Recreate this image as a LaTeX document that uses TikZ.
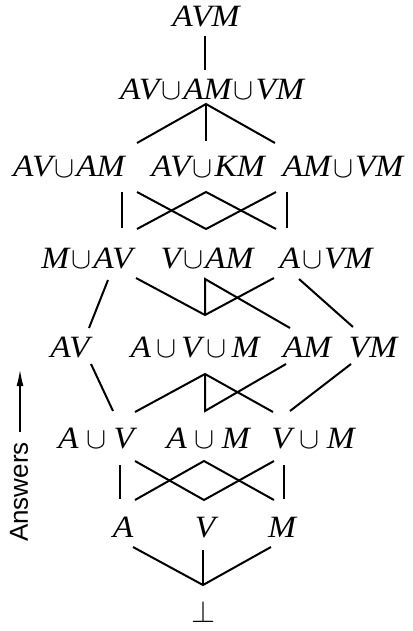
\documentclass[tikz,border=0pt]{standalone}
\usepackage{fontspec}
\usepackage{graphicx}
\setmainfont{Liberation Serif}[FakeStretch=1.08]
\setsansfont{Liberation Sans}
\usetikzlibrary{arrows.meta}
\newcommand\cupsym{\resizebox{20pt}{!}{$\cup$}}
\newcommand\cupx[1]{\hspace{#1}\cupsym\hspace{#1}}
\begin{document}
\begin{tikzpicture}[x=1pt,y=-1pt,
  lbl/.style={anchor=base,inner sep=0pt,font=\fontsize{31}{31}\selectfont\itshape},
  edge/.style={line width=2pt},
  ans/.style={font=\fontsize{26}{26}\sffamily,rotate=90,inner sep=0pt}]
\useasboundingbox (0,0) rectangle (412,631);
% row 1
\node[lbl] (avm) at (206,27) {AVM};
% row 2
\node[lbl] (r2) at (212,100) {AV\cupx{2pt}AM\cupx{2pt}VM};
% row 3
\node[lbl] (r3a) at (69,177) {AV\cupx{2pt}AM};
\node[lbl] (r3b) at (208,177) {AV\cupx{2pt}KM};
\node[lbl] (r3c) at (343,177) {AM\cupx{2pt}VM};
% row 4
\node[lbl] (r4a) at (87,268) {M\cupx{2pt}AV};
\node[lbl] (r4b) at (207,268) {V\cupx{2pt}AM};
\node[lbl] (r4c) at (326,268) {A\cupx{2pt}VM};
% row 5
\node[lbl] (r5a) at (70,357) {AV};
\node[lbl] (r5b) at (195,357) {A\cupx{5pt}V\cupx{5pt}M};
\node[lbl] (r5c) at (307,357) {AM};
\node[lbl] (r5d) at (373,357) {VM};
% row 6
\node[lbl] (r6a) at (96,448) {A\cupx{7.5pt}V};
\node[lbl] (r6b) at (208,448) {A\cupx{7.5pt}M};
\node[lbl] (r6c) at (313,448) {V\cupx{7.5pt}M};
% row 7
\node[lbl] (r7a) at (123,537) {A};
\node[lbl] (r7b) at (205,537) {V};
\node[lbl] (r7c) at (282,537) {M};
% bottom
\node[lbl,font=\normalsize] (bot) at (203,622) {\resizebox{24pt}{!}{$\bot$}};
% answers
\node[ans,anchor=center] (answers) at (19,492) {Answers};
\coordinate (atip) at (20,370);
\coordinate (abase) at (20,432);
\draw[line width=1.2pt,-{Latex[length=16pt,width=7pt]}] (abase) -- (atip);

% connection points
\coordinate (a1) at (205,36);  \coordinate (a2) at (205,70);
\coordinate (b0) at (206,104);
\coordinate (b1) at (137,143); \coordinate (b2) at (206,141); \coordinate (b3) at (275,143);
% row3 -> row4
\coordinate (c1t) at (122,192); \coordinate (c1b) at (122,228);
\coordinate (c5t) at (287,192); \coordinate (c5b) at (287,228);
\coordinate (c2t) at (137,192); \coordinate (c3t) at (206,192); \coordinate (c4t) at (276,192);
\coordinate (c2b) at (137,229); \coordinate (c3b) at (206,229); \coordinate (c4b) at (276,229);
% row4 -> row5
\coordinate (d1t) at (108,280); \coordinate (d1b) at (89,328);
\coordinate (d2t) at (136,278); \coordinate (dv) at (205,315); \coordinate (dap) at (205,279);
\coordinate (d3b) at (290,328); \coordinate (d4t) at (274,278);
\coordinate (d5t) at (299,279); \coordinate (d5b) at (353,327);
% row5 -> row6
\coordinate (e1t) at (91,364); \coordinate (e1b) at (113,411);
\coordinate (e2b) at (135,412); \coordinate (eap) at (205,374); \coordinate (ev) at (205,411);
\coordinate (e3b) at (273,412); \coordinate (e4t) at (286,364);
\coordinate (e5b) at (290,411); \coordinate (e5t) at (351,364);
% row6 -> row7
\coordinate (f1t) at (120,465); \coordinate (f1b) at (120,499);
\coordinate (f5t) at (284,465); \coordinate (f5b) at (284,499);
\coordinate (f2t) at (135,461); \coordinate (f3t) at (204,461); \coordinate (f4t) at (274,461);
\coordinate (f2b) at (135,500); \coordinate (f3b) at (204,500); \coordinate (f4b) at (274,500);
% row7 -> bottom
\coordinate (g1) at (133,547); \coordinate (g2) at (203,550); \coordinate (g3) at (271,547);
\coordinate (g0) at (203,585);

\begin{scope}[edge]
\draw (a1) -- (a2);
\draw (b1) -- (b0) -- (b3); \draw (b0) -- (b2);
\draw (c1t) -- (c1b); \draw (c5t) -- (c5b);
\draw (c2t) -- (c3b) -- (c4t);
\draw (c2b) -- (c3t) -- (c4b);
\draw (d1t) -- (d1b);
\draw (d2t) -- (dv) -- (d4t);
\draw (dv) -- (dap) -- (d3b);
\draw (d5t) -- (d5b);
\draw (e1t) -- (e1b);
\draw (e2b) -- (eap) -- (e3b);
\draw (eap) -- (ev) -- (e4t);
\draw (e5b) -- (e5t);
\draw (f1t) -- (f1b); \draw (f5t) -- (f5b);
\draw (f2t) -- (f3b) -- (f4t);
\draw (f2b) -- (f3t) -- (f4b);
\draw (g1) -- (g0) -- (g3); \draw (g2) -- (g0);
\end{scope}
\end{tikzpicture}
\end{document}
